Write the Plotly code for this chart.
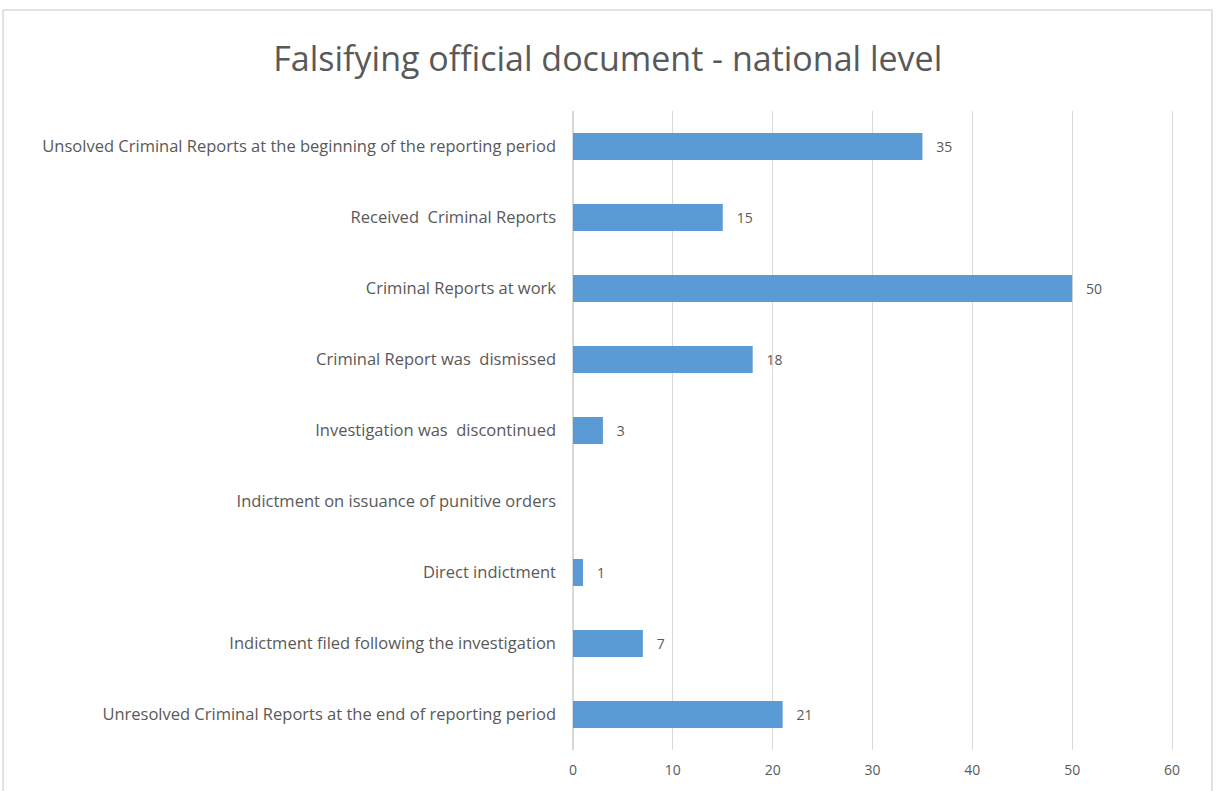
import plotly.graph_objects as go

# Categories listed top to bottom as they appear on the chart
categories = [
    "Unsolved Criminal Reports at the beginning of the reporting period",
    "Received  Criminal Reports",
    "Criminal Reports at work",
    "Criminal Report was  dismissed",
    "Investigation was  discontinued",
    "Indictment on issuance of punitive orders",
    "Direct indictment",
    "Indictment filed following the investigation",
    "Unresolved Criminal Reports at the end of reporting period",
]
values = [35, 15, 50, 18, 3, None, 1, 7, 21]
x_ticks = [0, 10, 20, 30, 40, 50, 60]

TEXT = "#595959"
FONT = "'Open Sans', sans-serif"

labels = ["" if v is None else f"   {v}" for v in values]

fig = go.Figure(
    go.Bar(
        y=categories,
        x=values,
        orientation="h",
        marker=dict(color="#5B9BD5", line=dict(width=0)),
        text=labels,
        textposition="outside",
        textfont=dict(family=FONT, size=14, color=TEXT),
        cliponaxis=False,
        width=0.38,
    )
)

fig.update_layout(
    width=1218,
    height=791,
    margin=dict(l=573, r=40, t=111, b=41),
    paper_bgcolor="white",
    plot_bgcolor="white",
    showlegend=False,
    title=dict(
        text="Falsifying official document - national level",
        x=0.499,
        xref="container",
        xanchor="center",
        y=0.925,
        yanchor="middle",
        font=dict(family=FONT, size=34, color=TEXT),
    ),
    shapes=[
        dict(
            type="rect",
            xref="paper",
            yref="paper",
            x0=-0.942,
            x1=1.056,
            y0=-0.2,
            y1=1.158,
            line=dict(color="#D9D9D9", width=1.5),
            fillcolor="rgba(0,0,0,0)",
            layer="below",
        )
    ],
)

fig.update_xaxes(
    range=[0, 60.6],
    tickvals=x_ticks,
    showgrid=True,
    gridcolor="#D9D9D9",
    gridwidth=1,
    zeroline=True,
    zerolinecolor="#D9D9D9",
    showline=False,
    ticks="",
    ticklabelstandoff=10,
    tickfont=dict(family=FONT, size=14, color=TEXT),
)

fig.update_yaxes(
    categoryorder="array",
    categoryarray=categories[::-1],
    autorange=True,
    showgrid=False,
    zeroline=False,
    showline=False,
    ticks="",
    ticklabelstandoff=16,
    tickfont=dict(family=FONT, size=16.5, color=TEXT),
)

fig.write_html("out.html")
